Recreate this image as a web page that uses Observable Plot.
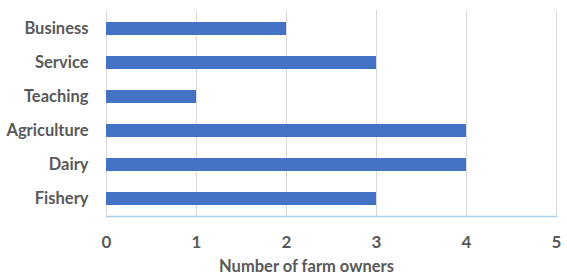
<!DOCTYPE html>
<html>
<head>
<meta charset="utf-8">
<script src="https://cdn.jsdelivr.net/npm/d3@7"></script>
<script src="https://cdn.jsdelivr.net/npm/@observablehq/plot@0.6"></script>
<style>
  html, body { margin: 0; padding: 0; background: #fff; }
  #chart svg { display: block; }
</style>
</head>
<body>
<div id="chart"></div>
<script>
const categories = ["Business", "Service", "Teaching", "Agriculture", "Dairy", "Fishery"];
const values = [2, 3, 1, 4, 4, 3];
const xTicks = [0, 1, 2, 3, 4, 5];
const xLabel = "Number of farm owners";

const data = categories.map((c, i) => ({category: c, value: values[i]}));
const font = "Lato, 'Open Sans', sans-serif";

const chart = Plot.plot({
  width: 567,
  height: 276,
  marginLeft: 106,
  marginRight: 11,
  marginTop: 10,
  marginBottom: 60,
  style: {fontFamily: font, fontSize: "16px", fontWeight: "bold", color: "#595959", background: "#fff"},
  x: {domain: [0, 5], ticks: xTicks, tickFormat: "d"},
  y: {domain: categories, paddingInner: 0.62, paddingOuter: 0.31},
  marks: [
    Plot.gridX(xTicks, {stroke: "#d9d9d9", strokeOpacity: 1}),
    Plot.frame({anchor: "bottom", stroke: "#a6d0ec", strokeWidth: 1.5}),
    Plot.barX(data, {y: "category", x: "value", fill: "#4472C4"}),
    Plot.axisX({ticks: xTicks, tickFormat: "d", tickSize: 0, tickPadding: 19, label: null, fontSize: 17, fill: "#595959"}),
    Plot.axisY({tickSize: 0, tickPadding: 18, label: null, fontSize: 16.5, fill: "#595959"}),
    Plot.text([xLabel], {text: d => d, frameAnchor: "bottom", dx: -25, dy: 55, fontSize: 16.5, fill: "#595959"})
  ]
});
document.getElementById("chart").appendChild(chart);
</script>
</body>
</html>
